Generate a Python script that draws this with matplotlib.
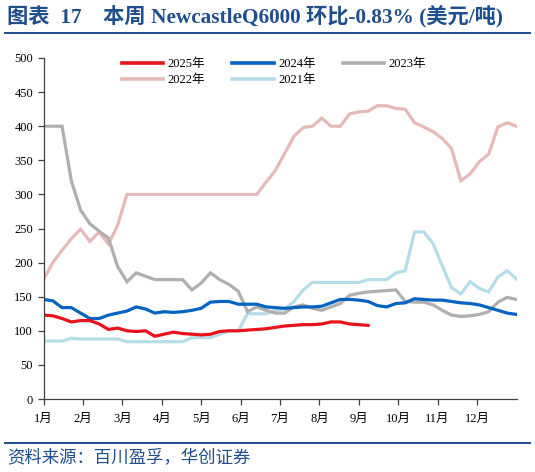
import matplotlib
matplotlib.use('Agg')
from matplotlib import pyplot as plt
from matplotlib.lines import Line2D
import numpy as np

plt.rcParams['font.family'] = ['Liberation Serif', 'Noto Sans CJK SC']

months = ['1月', '2月', '3月', '4月', '5月', '6月', '7月', '8月', '9月', '10月', '11月', '12月']

# weekly NewcastleQ6000 prices (USD/t)
y2025 = [123, 122, 118, 113, 115, 115, 110, 102, 104, 100, 99, 100, 92, 95, 98, 96, 95, 94,
         95, 99, 100, 100, 101, 102, 103, 105, 107, 108, 109, 109, 110, 113, 113, 110, 109, 108]
y2024 = [146, 144, 134, 134, 126, 118, 118, 123, 126, 129, 135, 132, 126, 128, 127, 128, 130, 133,
         142, 143, 143, 139, 139, 139, 135, 134, 133, 134, 135, 135, 136, 141, 146, 146, 145, 143,
         137, 135, 140, 141, 147, 146, 145, 145, 143, 141, 140, 138, 134, 130, 126, 124]
y2023 = [400, 400, 400, 320, 277, 257, 246, 236, 194, 172, 185, 180, 175, 175, 175, 175, 160, 170,
         185, 175, 168, 158, 128, 135, 130, 126, 126, 135, 138, 133, 130, 135, 140, 152, 155, 157,
         158, 159, 160, 143, 142, 142, 138, 130, 123, 121, 122, 124, 128, 142, 149, 146]
y2022 = [175, 200, 218, 235, 249, 231, 245, 227, 255, 300, 300, 300, 300, 300, 300, 300, 300, 300,
         300, 300, 300, 300, 300, 300, 318, 335, 360, 385, 398, 400, 412, 400, 400, 418, 421, 422,
         430, 430, 426, 425, 405, 399, 392, 382, 367, 320, 330, 348, 359, 399, 405, 400]
y2021 = [85, 85, 85, 89, 88, 88, 88, 88, 88, 84, 84, 84, 84, 84, 84, 84, 90, 90,
         90, 95, 100, 100, 125, 125, 125, 130, 132, 143, 160, 171, 171, 171, 171, 171, 171, 175,
         175, 175, 185, 188, 245, 245, 228, 195, 163, 154, 172, 162, 157, 179, 188, 176]

W, H = 535, 472
fig = plt.figure(figsize=(W / 100, H / 100), dpi=100)
ax = fig.add_axes([43.5 / W, 1 - 399 / H, 473 / W, 341 / H])

series = [
    ('2025年', y2025, '#e8121c'),
    ('2024年', y2024, '#0563c1'),
    ('2023年', y2023, '#afafaf'),
    ('2022年', y2022, '#e6b9b8'),
    ('2021年', y2021, '#b4dde9'),
]
# draw older years first so 2025 sits on top
for name, vals, col in series[::-1]:
    ax.plot(np.arange(len(vals)), vals, color=col, lw=2.3, solid_joinstyle='miter')

ax.set_xlim(0, 51)
ax.set_ylim(0, 500)
ax.set_yticks(np.arange(0, 501, 50))
ax.set_xticks([51 * m / 12 for m in range(12)])
ax.set_xticklabels(months)
for s in ['top', 'right']:
    ax.spines[s].set_visible(False)
for s in ['left', 'bottom']:
    ax.spines[s].set_color('#404040')
    ax.spines[s].set_linewidth(0.9)
ax.tick_params(axis='both', direction='out', length=4, width=0.9, color='#404040',
               labelsize=9, labelcolor='black')
ax.tick_params(axis='x', pad=6)

handles = {n: Line2D([], [], color=c, lw=2.6) for n, v, c in series}
order = ['2025年', '2022年', '2024年', '2021年', '2023年']
fig.legend([handles[n] for n in order], order, ncol=3, loc='upper center',
           bbox_to_anchor=(274 / W, 1 - 47 / H), frameon=False, fontsize=9,
           handlelength=3.3, handletextpad=0.35, columnspacing=2.2, labelspacing=0.3)

navy = '#1f4e8c'
fig.text(7 / W, 1 - 17 / H, '图表  17    本周 NewcastleQ6000 环比-0.83% (美元/吨)',
         fontsize=15.3, fontweight='bold', color=navy, va='center', ha='left')
fig.add_artist(Line2D([5 / W, 530 / W], [1 - 33 / H, 1 - 33 / H], color=navy, lw=1.4))
fig.add_artist(Line2D([5 / W, 530 / W], [1 - 443 / H, 1 - 443 / H], color=navy, lw=1.4))
fig.text(7 / W, 1 - 459 / H, '资料来源：百川盈孚，华创证券', fontsize=12.5, style='italic',
         color=navy, va='center', ha='left')

fig.savefig('out.png', dpi=100)
